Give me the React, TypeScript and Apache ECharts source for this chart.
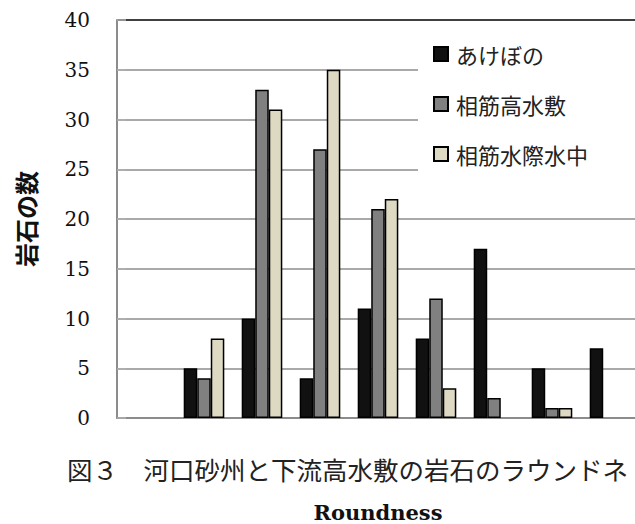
import React, { useEffect, useRef } from "react";
import * as echarts from "echarts";

const categories = ["1", "2", "3", "4", "5", "6", "7", "8", "9", "10"];
const seriesNames = ["あけぼの", "相筋高水敷", "相筋水際水中"];
const akebono = [null, 5, 10, 4, 11, 8, 17, 5, 7, null];
const aisujiHigh = [null, 4, 33, 27, 21, 12, 2, 1, null, null];
const aisujiWater = [null, 8, 31, 35, 22, 3, null, 1, null, null];
const yTicks = { min: 0, max: 40, interval: 5 };
const caption = "図３　河口砂州と下流高水敷の岩石のラウンドネ";
const xName = "Roundness";
const yName = "岩石の数";

const colors = ["#111111", "#808080", "#ddd9c3"];

export default function App() {
  const ref = useRef<HTMLDivElement>(null);
  useEffect(() => {
    if (!ref.current) return;
    const chart = echarts.init(ref.current, undefined, { renderer: "svg" });
    const data = [akebono, aisujiHigh, aisujiWater];
    const jp = "'Noto Sans CJK JP', sans-serif";
    const splitColors = Array.from({ length: 9 }, (_, i) => (i === 8 ? "#000000" : "#8c8c8c"));
    chart.setOption({
      animation: false,
      backgroundColor: "#ffffff",
      grid: { left: 117, top: 20, width: 580, height: 398, containLabel: false, outerBoundsMode: "none" },
      legend: {
        orient: "vertical",
        left: 418,
        top: 25,
        width: 212,
        padding: [18, 60, 18, 15],
        backgroundColor: "#ffffff",
        itemWidth: 14,
        itemHeight: 14,
        itemGap: 28,
        icon: "rect",
        textStyle: { fontFamily: jp, fontSize: 22, color: "#222", padding: [0, 0, 0, 3] },
        data: seriesNames,
      },
      xAxis: {
        type: "category",
        data: categories,
        axisLine: { lineStyle: { color: "#8c8c8c", width: 2 } },
        axisTick: { show: false },
        axisLabel: { show: false },
      },
      yAxis: {
        type: "value",
        min: yTicks.min,
        max: yTicks.max,
        interval: yTicks.interval,
        name: yName,
        nameLocation: "middle",
        nameRotate: 90,
        nameGap: 80,
        nameTextStyle: { fontFamily: jp, fontSize: 24, fontWeight: "bold", color: "#111" },
        axisLine: { show: true, lineStyle: { color: "#8c8c8c", width: 2 } },
        axisTick: { show: true, inside: true, length: 9, lineStyle: { color: "#b0b0b0", width: 1.5 } },
        axisLabel: { margin: 27, fontFamily: "'DejaVu Serif', serif", fontSize: 20, color: "#111" },
        splitLine: { show: true, lineStyle: { color: splitColors, width: 1.5 } },
      },
      series: seriesNames.map((name, i) => ({
        name,
        type: "bar",
        data: data[i],
        barGap: "0%",
        barCategoryGap: "30%",
        itemStyle: { color: colors[i], borderColor: "#000", borderWidth: 1.5 },
      })),
      graphic: [
        {
          type: "text",
          x: 67,
          y: 468,
          style: {
            text: caption,
            font: "25.5px 'Noto Sans CJK JP', sans-serif",
            fill: "#222",
            textVerticalAlign: "middle",
          },
        },
        {
          type: "text",
          x: 378,
          y: 523,
          style: {
            text: xName,
            font: "bold 21px 'DejaVu Serif', serif",
            fill: "#111",
            textAlign: "center",
            textVerticalAlign: "bottom",
          },
        },
      ],
    });
    return () => chart.dispose();
  }, []);
  return (
    <div style={{ position: "absolute", left: 0, top: 0, width: 635, height: 524, overflow: "hidden", background: "#fff" }}>
      <div ref={ref} style={{ width: 720, height: 524 }} />
    </div>
  );
}
